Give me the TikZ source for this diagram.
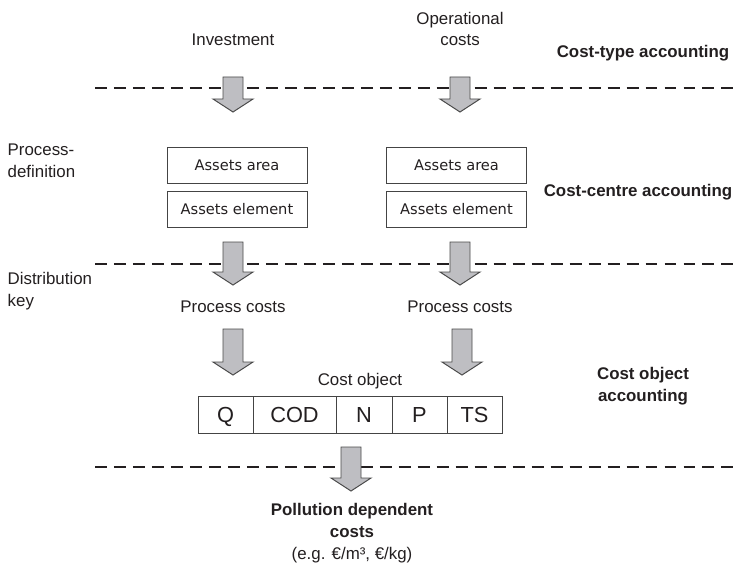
\documentclass[tikz,border=0pt]{standalone}
\usepackage{fontspec}
\setmainfont{Liberation Sans}
\newfontfamily\boxfont{DejaVu Sans}
\usetikzlibrary{positioning}

% Block arrow pointing down: centre x, shaft top, head base
\newcommand\costarrow[3]{%
    \filldraw[arrowFill] (#1-10,#2) -- (#1+10,#2) -- (#1+10,#3) -- (#1+20,#3)
        -- (#1,#3+13) -- (#1-20,#3) -- (#1-10,#3) -- cycle;}

\begin{document}
\begin{tikzpicture}[x=0.025cm, y=-0.025cm,
    label/.style={font=\fontsize{12}{15.5}\selectfont, text=textColour, inner sep=1pt},
    levelLabel/.style={label, font=\fontsize{12}{15.5}\selectfont\bfseries, align=center},
    levelLine/.style={line width=2pt, draw=textColour, dash pattern=on 8.5pt off 5pt},
    assetBox/.style={draw=boxColour, line width=0.5pt, minimum width=3.5cm, minimum height=0.9cm,
        font=\boxfont\fontsize{10.4}{12}\selectfont, text=textColour, outer sep=0pt},
    cell/.style={draw=boxColour, line width=0.6pt, minimum height=0.925cm, outer sep=0pt,
        text height=11pt, text depth=0pt, font=\fontsize{15.5}{18}\selectfont, text=textColour},
    arrowFill/.style={fill=arrowColour, draw=arrowBorder, line width=0.7pt}]
    % Define colours
    \definecolor{textColour}{HTML}{231F20}
    \definecolor{boxColour}{HTML}{444444}
    \definecolor{arrowColour}{HTML}{BEBEC2}
    \definecolor{arrowBorder}{HTML}{4A4A4A}

    % Define page size
    \def\pageWidth{736}
    \def\pageHeight{565}
    \useasboundingbox (0,0) rectangle (\pageWidth,\pageHeight);

    % Draw the level separators
    \foreach \y in {88,264,467}
        \draw[levelLine] (95,\y) -- (\pageWidth,\y);

    % Cost types
    \node[label] (invest) at (233,40) {Investment};
    \node[label, align=center] (opCosts) at (460,29) {Operational\\costs};
    \node[levelLabel] (costType) at (643,53) {Cost-type accounting};

    % Cost centres
    \node[label, align=left, anchor=west] (procDef) at (6,161) {Process-\\definition};
    \node[assetBox] (areaL) at (237,165) {Assets area};
    \node[assetBox, below=0.2cm of areaL] (elemL) {Assets element};
    \node[assetBox] (areaR) at (456.5,165) {Assets area};
    \node[assetBox, below=0.2cm of areaR] (elemR) {Assets element};
    \node[levelLabel] (costCentre) at (638,192) {Cost-centre accounting};

    % Process costs
    \node[label] (procL) at (233,307) {Process costs};
    \node[label] (procR) at (460,307) {Process costs};
    \node[label, align=left, anchor=west] (distKey) at (6,291) {Distribution\\key};

    % Cost object with its parameters
    \node[label] (costObj) at (360,381) {Cost object};
    \node[cell, minimum width=1.375cm] (q) at (225.5,414.5) {Q};
    \node[cell, minimum width=2.075cm] (cod) at (294.5,414.5) {COD};
    \node[cell, minimum width=1.4cm] (n) at (364,414.5) {N};
    \node[cell, minimum width=1.375cm] (p) at (419.5,414.5) {P};
    \node[cell, minimum width=1.375cm] (ts) at (474.5,414.5) {TS};
    \node[levelLabel] (costObjAcc) at (643,386) {Cost object\\accounting};

    % Result
    \node[label, align=center] (result) at (352,533)
        {{\bfseries Pollution dependent}\\{\bfseries costs}\\(e.g. €/m³, €/kg)};

    % Draw the block arrows
    \costarrow{233}{77}{99}
    \costarrow{460}{77}{99}
    \costarrow{233}{242}{272}
    \costarrow{460}{242}{272}
    \costarrow{233}{329}{362}
    \costarrow{462}{329}{362}
    \costarrow{351}{447}{478}
\end{tikzpicture}
\end{document}
